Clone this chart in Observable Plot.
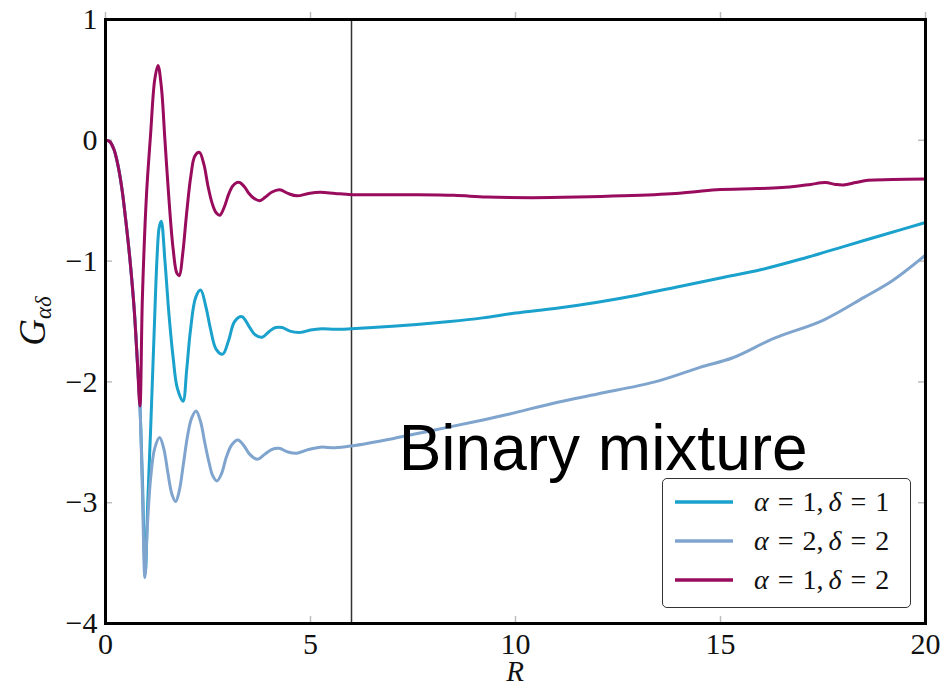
<!DOCTYPE html>
<html>
<head>
<meta charset="utf-8">
<script src="https://cdn.jsdelivr.net/npm/d3@7"></script>
<script src="https://cdn.jsdelivr.net/npm/@observablehq/plot@0.6"></script>
<style>
  body { margin: 0; background: #fff; }
  #chart { position: relative; width: 952px; height: 686px; }
  .legend {
    position: absolute; left: 662px; top: 478px; width: 249px; height: 130px;
    border: 1.5px solid #333; border-radius: 5px; background: #fff;
    font-family: "Liberation Serif", "DejaVu Serif", serif; font-size: 28px; color: #111;
    box-sizing: border-box; padding-top: 3px;
  }
  .legend .row { display: flex; align-items: center; height: 39px; }
  .legend svg { margin-left: 12px; margin-right: 21px; }
  .legend i { font-style: italic; }
  .legend .eq { margin: 0 9px; }
  .legend .sep { margin-right: 5px; }
</style>
</head>
<body>
<div id="chart"></div>
<script>
// G_{αδ}(R) for the binary mixture, three pair combinations
const r11 = [0, 0.1, 0.2, 0.3, 0.4, 0.5, 0.6, 0.7, 0.78, 0.84, 0.9, 0.97, 1.03, 1.1, 1.18, 1.26, 1.31, 1.36, 1.45, 1.55, 1.65, 1.75, 1.89, 1.98, 2.07, 2.2, 2.32, 2.45, 2.56, 2.7, 2.86, 3.0, 3.15, 3.33, 3.5, 3.65, 3.82, 4.0, 4.15, 4.31, 4.5, 4.76, 5.0, 5.28, 5.6, 6, 7, 8.4, 9.2, 10, 11, 12, 13, 14, 15, 16, 17, 18, 19, 20];
const g11 = [0, -0.01, -0.07, -0.2, -0.4, -0.68, -1.0, -1.4, -1.85, -2.2, -2.8, -3.58, -3.0, -2.4, -1.65, -0.95, -0.72, -0.67, -1.0, -1.45, -1.8, -2.05, -2.16, -1.9, -1.58, -1.3, -1.24, -1.38, -1.56, -1.73, -1.77, -1.66, -1.5, -1.46, -1.54, -1.61, -1.63, -1.58, -1.55, -1.55, -1.58, -1.59, -1.57, -1.56, -1.565, -1.56, -1.54, -1.5, -1.47, -1.43, -1.39, -1.34, -1.28, -1.21, -1.14, -1.07, -0.98, -0.88, -0.78, -0.68];

const r22 = [0, 0.1, 0.2, 0.3, 0.4, 0.5, 0.6, 0.7, 0.78, 0.84, 0.9, 0.96, 1.02, 1.1, 1.2, 1.32, 1.42, 1.52, 1.62, 1.71, 1.8, 1.9, 2.0, 2.1, 2.21, 2.32, 2.42, 2.52, 2.62, 2.72, 2.83, 2.95, 3.08, 3.23, 3.38, 3.52, 3.7, 3.88, 4.05, 4.23, 4.45, 4.67, 4.95, 5.24, 5.6, 6, 7, 8, 9, 9.8, 11, 12, 13.4, 14.5, 15.3, 16.3, 17.5, 18.5, 19.2, 20];
const g22 = [0, -0.01, -0.07, -0.2, -0.4, -0.68, -1.0, -1.4, -1.85, -2.2, -2.9, -3.62, -3.2, -2.8, -2.55, -2.46, -2.55, -2.75, -2.93, -2.99, -2.9, -2.68, -2.45, -2.3, -2.24, -2.33, -2.5, -2.66, -2.78, -2.82, -2.76, -2.62, -2.52, -2.48, -2.53, -2.6, -2.64, -2.6, -2.56, -2.55, -2.58, -2.59, -2.56, -2.54, -2.545, -2.53, -2.47, -2.4, -2.33, -2.27, -2.17, -2.1, -2.0, -1.88, -1.8, -1.64, -1.49, -1.3, -1.16, -0.95];

const r12 = [0, 0.1, 0.2, 0.3, 0.4, 0.5, 0.6, 0.7, 0.78, 0.84, 0.9, 1.0, 1.1, 1.2, 1.28, 1.36, 1.45, 1.55, 1.65, 1.74, 1.8, 1.88, 1.98, 2.08, 2.18, 2.29, 2.4, 2.5, 2.6, 2.7, 2.79, 2.9, 3.0, 3.1, 3.2, 3.28, 3.4, 3.5, 3.62, 3.76, 3.9, 4.05, 4.25, 4.45, 4.67, 4.95, 5.24, 5.6, 6, 6.7, 7.5, 8.5, 9.3, 10.4, 11.5, 12.6, 13.9, 14.9, 15.9, 16.5, 16.85, 17.2, 17.56, 17.8, 18.0, 18.3, 18.6, 19.2, 20];
const g12 = [0, -0.01, -0.07, -0.2, -0.4, -0.68, -1.0, -1.4, -1.85, -2.2, -1.3, -0.45, 0.05, 0.5, 0.62, 0.45, 0.0, -0.5, -0.9, -1.1, -1.12, -0.95, -0.6, -0.3, -0.13, -0.1, -0.2, -0.38, -0.52, -0.6, -0.62, -0.55, -0.45, -0.38, -0.35, -0.35, -0.39, -0.44, -0.48, -0.5, -0.47, -0.43, -0.41, -0.44, -0.46, -0.44, -0.43, -0.44, -0.45, -0.45, -0.45, -0.455, -0.47, -0.475, -0.47, -0.46, -0.44, -0.41, -0.4, -0.39, -0.38, -0.365, -0.35, -0.365, -0.37, -0.35, -0.33, -0.325, -0.32];

const seriesNames = ["α = 1, δ = 1", "α = 2, δ = 2", "α = 1, δ = 2"];
const seriesAlpha = [1, 2, 1];
const seriesDelta = [1, 2, 2];
const seriesColors = ["#1aa1cc", "#7fa4cd", "#980b5d"];
const xTicks = [0, 5, 10, 15, 20];
const yTicks = [-4, -3, -2, -1, 0, 1];
const markerR = [6];
const annotation = [{R: 7.15, G: -2.73, text: "Binary mixture"}];

const W = 952, H = 686;
const M = {left: 105, right: 27, top: 19, bottom: 63};
const xDomain = [0, 20], yDomain = [-4, 1];

const rows = [];
[[r11, g11], [r22, g22], [r12, g12]].forEach(([rs, gs], k) => {
  rs.forEach((r, i) => rows.push({series: seriesNames[k], R: r, G: gs[i]}));
});

const tickGray = "#bdbdbd";
const tickLen = 7;
const fmt = d3.format("d");
const tickStyle = {stroke: tickGray, strokeWidth: 1.5};
const plot = Plot.plot({
  width: W, height: H,
  marginLeft: M.left, marginRight: M.right, marginTop: M.top, marginBottom: M.bottom,
  style: {fontFamily: "'Liberation Serif', 'DejaVu Serif', serif", fontSize: "30px", background: "#fff", color: "#111"},
  x: {domain: xDomain},
  y: {domain: yDomain},
  color: {domain: seriesNames, range: seriesColors},
  marks: [
    // short inward tick marks on all four sides of the frame
    Plot.ruleX(xTicks, {x: d => d, y1: yDomain[0], y2: yDomain[0], insetBottom: tickLen, ...tickStyle}),
    Plot.ruleX(xTicks, {x: d => d, y1: yDomain[1], y2: yDomain[1], insetTop: -tickLen, ...tickStyle}),
    Plot.ruleY(yTicks, {y: d => d, x1: xDomain[0], x2: xDomain[0], insetRight: -tickLen, ...tickStyle}),
    Plot.ruleY(yTicks, {y: d => d, x1: xDomain[1], x2: xDomain[1], insetLeft: -tickLen, ...tickStyle}),
    // tick labels
    Plot.axisX(xTicks, {anchor: "bottom", tickSize: 0, tickPadding: 9, label: null, tickFormat: fmt}),
    Plot.axisY(yTicks, {anchor: "left", tickSize: 0, tickPadding: 8, label: null, tickFormat: fmt}),
    Plot.ruleX(markerR, {stroke: "#333", strokeWidth: 1.5}),
    Plot.line(rows, {x: "R", y: "G", z: "series", stroke: "series", strokeWidth: 3, curve: "catmull-rom"}),
    Plot.text(annotation, {x: "R", y: "G", text: "text", textAnchor: "start", lineAnchor: "bottom",
      fontFamily: "'Liberation Sans', Arial, sans-serif", fontSize: 64, fill: "#000"}),
    Plot.frame({stroke: "#000", strokeWidth: 3})
  ]
});

const svg = d3.select(plot);
// y-axis label G_{αδ}
const yl = svg.append("text")
  .attr("transform", `translate(45,${(M.top + H - M.bottom) / 2}) rotate(-90)`)
  .attr("text-anchor", "middle")
  .attr("fill", "#111")
  .style("font-family", "'Liberation Serif', 'DejaVu Serif', serif")
  .style("font-style", "italic");
yl.append("tspan").attr("font-size", 37).text("G");
yl.append("tspan").attr("font-size", 23).attr("dy", 6).text("αδ");
// x-axis label R
svg.append("text")
  .attr("x", (M.left + W - M.right) / 2).attr("y", 681)
  .attr("text-anchor", "middle").attr("fill", "#111")
  .style("font-family", "'Liberation Serif', 'DejaVu Serif', serif")
  .style("font-style", "italic").attr("font-size", 29)
  .text("R");

const chart = document.getElementById("chart");
chart.appendChild(plot);

// legend box
const legend = d3.select(chart).append("div").attr("class", "legend");
seriesNames.forEach((name, i) => {
  const row = legend.append("div").attr("class", "row").attr("title", name);
  const sw = row.append("svg").attr("width", 58).attr("height", 6);
  sw.append("line").attr("x1", 0).attr("x2", 58).attr("y1", 3).attr("y2", 3)
    .attr("stroke", seriesColors[i]).attr("stroke-width", 3.5);
  row.append("span").html(
    `<i>α</i><span class="eq">=</span>${seriesAlpha[i]}<span class="sep">,</span><i>δ</i><span class="eq">=</span>${seriesDelta[i]}`);
});
</script>
</body>
</html>
